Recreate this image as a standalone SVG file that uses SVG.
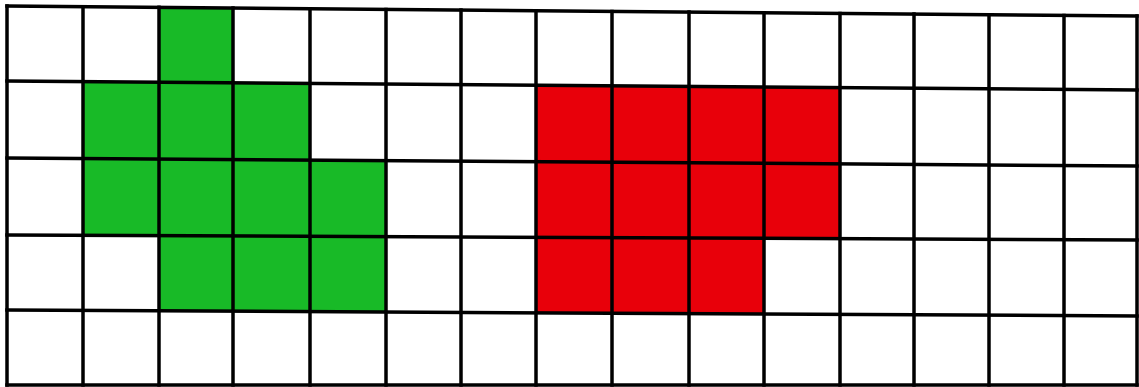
<svg xmlns="http://www.w3.org/2000/svg" width="1139" height="387" viewBox="0 0 1139 387">
  <style>
    .grid line { stroke: #000; stroke-width: 3.5; stroke-linecap: square; }
    .green { fill: #18ba27; }
    .red { fill: #e8000a; }
  </style>
  <rect width="1139" height="387" fill="#ffffff"/>
  <g id="green-shape">
    <polygon class="green" points="159,7.3 233,8 233,82.8 310,83.4 310,160.1 386,160.7 386,312 159,310.8 159,235.7 83,235.3 83,81.6 159,82.2"/>
  </g>
  <g id="red-shape">
    <polygon class="red" points="536,85.2 840,87.6 840,238.7 764,238.3 764,314 536,312.8"/>
  </g>
  <g id="grid" class="grid">
    <line x1="7" y1="6" x2="1137" y2="16"/>
    <line x1="7" y1="81" x2="1137" y2="90"/>
    <line x1="7" y1="158" x2="1137" y2="166"/>
    <line x1="7" y1="235" x2="1137" y2="240"/>
    <line x1="7" y1="310" x2="1137" y2="316"/>
    <line x1="7" y1="385" x2="1137" y2="385"/>
    <line x1="7" y1="6" x2="7" y2="385"/>
    <line x1="83" y1="6.7" x2="83" y2="385"/>
    <line x1="159" y1="7.3" x2="159" y2="385"/>
    <line x1="233" y1="8" x2="233" y2="385"/>
    <line x1="310" y1="8.7" x2="310" y2="385"/>
    <line x1="386" y1="9.4" x2="386" y2="385"/>
    <line x1="461" y1="10" x2="461" y2="385"/>
    <line x1="536" y1="10.7" x2="536" y2="385"/>
    <line x1="612" y1="11.4" x2="612" y2="385"/>
    <line x1="689" y1="12" x2="689" y2="385"/>
    <line x1="764" y1="12.7" x2="764" y2="385"/>
    <line x1="840" y1="13.4" x2="840" y2="385"/>
    <line x1="914" y1="14" x2="914" y2="385"/>
    <line x1="989" y1="14.7" x2="989" y2="385"/>
    <line x1="1064" y1="15.4" x2="1064" y2="385"/>
    <line x1="1137" y1="16" x2="1137" y2="385"/>
  </g>
</svg>
